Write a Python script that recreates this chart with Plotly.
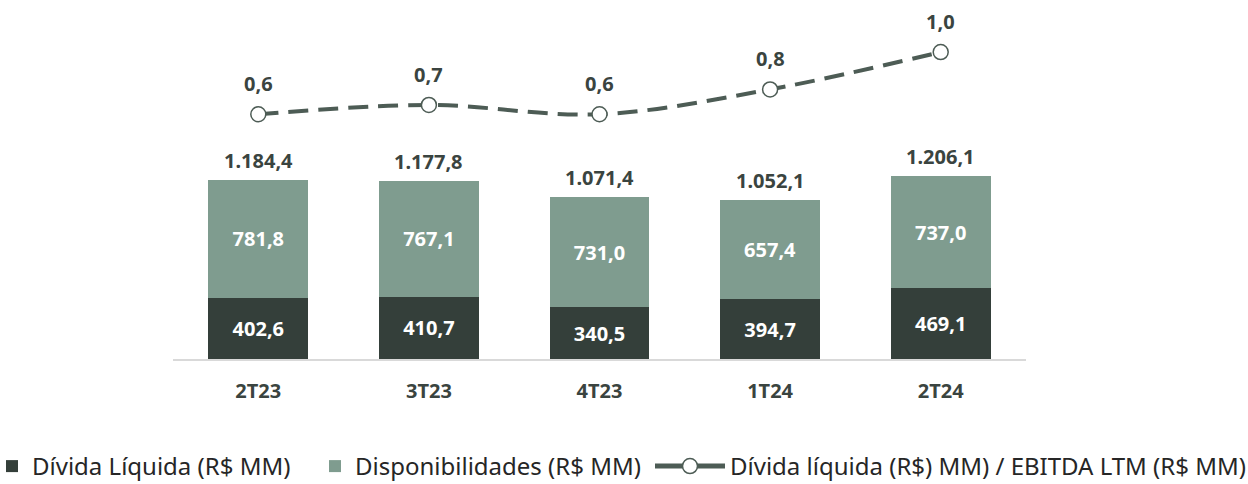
import plotly.graph_objects as go

categories = ["2T23", "3T23", "4T23", "1T24", "2T24"]
divida_liquida = [402.6, 410.7, 340.5, 394.7, 469.1]
disponibilidades = [781.8, 767.1, 731.0, 657.4, 737.0]
totais = [1184.4, 1177.8, 1071.4, 1052.1, 1206.1]
alavancagem = [0.60, 0.66, 0.60, 0.76, 1.00]
alavancagem_labels = ["0,6", "0,7", "0,6", "0,8", "1,0"]


def br(v):
    s = f"{v:,.1f}"
    return s.replace(",", "X").replace(".", ",").replace("X", ".")


DARK = "#343F3A"
LIGHT = "#7F9C8F"
LINE = "#4D5C55"
TXT = "#3A4440"
FONT = "Noto Sans"
LEGEND_FONT = dict(size=24, color="#262626", family=FONT)
LABEL_FONT = dict(color=TXT, size=20, family=FONT, weight="bold")
LINE_NAME = "Dívida líquida (R$) MM) / EBITDA LTM (R$ MM)"

fig = go.Figure()
fig.add_trace(go.Bar(
    x=categories, y=divida_liquida, name="Dívida Líquida (R$ MM)",
    marker=dict(color=DARK, line=dict(width=0)),
    text=[br(v) for v in divida_liquida], textposition="inside",
    insidetextanchor="middle", textangle=0,
    textfont=dict(color="white", size=20, family=FONT, weight="bold"),
    width=0.586, legend="legend",
))
fig.add_trace(go.Bar(
    x=categories, y=disponibilidades, name="Disponibilidades (R$ MM)",
    marker=dict(color=LIGHT, line=dict(width=0)),
    text=[br(v) for v in disponibilidades], textposition="inside",
    insidetextanchor="middle", textangle=0,
    textfont=dict(color="white", size=20, family=FONT, weight="bold"),
    width=0.586, legend="legend2",
))
fig.add_trace(go.Scatter(
    x=categories, y=alavancagem, yaxis="y2", mode="lines+markers",
    name=LINE_NAME, showlegend=False,
    line=dict(color=LINE, width=4, dash="20px,10px", shape="spline"),
    marker=dict(symbol="circle", size=15, color="white",
                line=dict(color=LINE, width=1.5)),
))
# legend-only entry so the key shows a solid line like the reference
fig.add_trace(go.Scatter(
    x=[None], y=[None], yaxis="y2", mode="lines+markers", name=LINE_NAME,
    line=dict(color=LINE, width=5),
    marker=dict(symbol="circle", size=15, color="white",
                line=dict(color=LINE, width=1.5)),
    legend="legend3", hoverinfo="skip",
))

annotations = [
    dict(x=c, y=t, xref="x", yref="y", text=br(t), showarrow=False,
         yanchor="bottom", yshift=4, font=LABEL_FONT)
    for c, t in zip(categories, totais)
] + [
    dict(x=c, y=v, xref="x", yref="y2", text=lab, showarrow=False,
         yanchor="bottom", yshift=15, font=LABEL_FONT)
    for c, v, lab in zip(categories, alavancagem, alavancagem_labels)
]

PLOT_L, PLOT_W, PLOT_BOTTOM, PLOT_H = 173, 853, 359, 359
LEG_Y = (PLOT_BOTTOM - 489) / PLOT_H

legend_common = dict(
    xref="paper", yref="paper", y=LEG_Y,
    xanchor="left", yanchor="bottom", font=LEGEND_FONT,
    bgcolor="rgba(0,0,0,0)", orientation="h",
)

fig.update_layout(
    width=1248, height=484,
    barmode="stack", bargap=0.414,
    plot_bgcolor="white", paper_bgcolor="white",
    margin=dict(l=173, r=222, t=0, b=125, autoexpand=False),
    font=dict(family=FONT, color=TXT),
    annotations=annotations,
    xaxis=dict(
        showgrid=False, showline=True, linecolor="#D9D9D9", linewidth=1.5,
        ticks="", tickfont=dict(size=20, color=TXT, family=FONT, weight="bold"),
        range=[-0.5, 4.5], ticklabelstandoff=13,
    ),
    yaxis=dict(range=[0, 2369], visible=False, showgrid=False),
    yaxis2=dict(range=[-0.974, 1.335], overlaying="y", visible=False,
                showgrid=False),
    showlegend=True,
    legend=dict(x=(-8 - PLOT_L) / PLOT_W, itemwidth=30, **legend_common),
    legend2=dict(x=(315 - PLOT_L) / PLOT_W, itemwidth=30, **legend_common),
    legend3=dict(x=(650 - PLOT_L) / PLOT_W, itemwidth=70, **legend_common),
)

fig.write_html("out.html", config={"displayModeBar": False},
               post_script="document.body.style.margin='0';")
